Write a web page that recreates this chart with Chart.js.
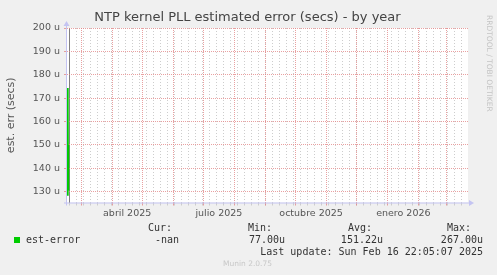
<!DOCTYPE html>
<html>
<head>
<meta charset="utf-8">
<script src="https://cdn.jsdelivr.net/npm/chart.js@4/dist/chart.umd.min.js"></script>
<style>
  html, body { margin: 0; padding: 0; background: #f0f0f0; }
  #wrap { width: 497px; height: 275px; }
</style>
</head>
<body>
<div id="wrap"><canvas id="ntpChart" width="497" height="275"></canvas></div>
<script>
// time axis: 400 days, left edge = 15 Feb 2025 (day 0)
const startDate = Date.UTC(2025, 1, 15);
const spanDays = 400;
const DAY = 86400000;
const dayOf = (y, m, d) => (Date.UTC(y, m, d) - startDate) / DAY;

const monthLabels = ['abril 2025', 'julio 2025', 'octubre 2025', 'enero 2026'];
const labelMonths = [[2025, 3], [2025, 6], [2025, 9], [2026, 0]];

// est-error samples (days from left edge, micro-seconds)
const errDays = [0.4, 0.6, 0.8, 1.0, 1.2];
const errValues = [174.3, 128.3, 165.0, 131.0, 150.0];
const lastUpdateDay = 2.5;

const yTicks = [130, 140, 150, 160, 170, 180, 190, 200];
const yMin = 125.4, yMax = 200;

const legendHead = ['Cur:', 'Min:', 'Avg:', 'Max:'];
const legendVals = ['-nan', '77.00u', '151.22u', '267.00u'];

const RED = 'rgba(226,130,130,0.75)';
const GRAY = 'rgba(200,200,200,0.9)';
const AXIS = '#c4c4f2';

function xTicks(scale) {
  const t = [];
  for (let d = dayOf(2025, 1, 17); d <= spanDays; d += 7) t.push({ value: d, kind: 'week' });
  for (let y = 2025, m = 2; ; m++) {
    if (m > 11) { m = 0; y++; }
    const d = dayOf(y, m, 1);
    if (d > spanDays) break;
    t.push({ value: d, kind: 'month' });
  }
  labelMonths.forEach(([y, m], i) => {
    const mid = (dayOf(y, m, 1) + dayOf(y, m + 1, 1)) / 2;
    t.push({ value: mid, kind: 'label', name: monthLabels[i] });
  });
  t.push({ value: lastUpdateDay, kind: 'now' });
  scale.ticks = t;
}

function yGrid(scale) {
  const t = [];
  yTicks.forEach(v => {
    if (v - 5 >= yMin) t.push({ value: v - 5, kind: 'minor' });
    t.push({ value: v, kind: 'major' });
  });
  scale.ticks = t;
}

const frame = {
  id: 'frame',
  beforeDraw(chart) {
    const { ctx, chartArea: a } = chart;
    ctx.save();
    ctx.fillStyle = '#f0f0f0';
    ctx.fillRect(0, 0, chart.width, chart.height);
    ctx.fillStyle = '#ffffff';
    ctx.fillRect(a.left, a.top, a.right - a.left, a.bottom - a.top);
    ctx.restore();
  },
  afterDraw(chart) {
    const { ctx, chartArea: a } = chart;
    ctx.save();
    // axes with arrows
    ctx.strokeStyle = AXIS;
    ctx.fillStyle = AXIS;
    ctx.lineWidth = 1;
    ctx.beginPath();
    ctx.moveTo(a.left - 3, a.bottom + 0.5);
    ctx.lineTo(a.right + 2, a.bottom + 0.5);
    ctx.moveTo(a.left - 0.5, a.bottom + 3);
    ctx.lineTo(a.left - 0.5, a.top - 3);
    ctx.stroke();
    ctx.beginPath();
    ctx.moveTo(a.right + 1, a.bottom - 2.5);
    ctx.lineTo(a.right + 6, a.bottom + 0.5);
    ctx.lineTo(a.right + 1, a.bottom + 3.5);
    ctx.closePath();
    ctx.fill();
    ctx.beginPath();
    ctx.moveTo(a.left - 3.5, a.top - 2);
    ctx.lineTo(a.left - 0.5, a.top - 7);
    ctx.lineTo(a.left + 2.5, a.top - 2);
    ctx.closePath();
    ctx.fill();

    // title
    ctx.fillStyle = '#444';
    ctx.font = '13px "DejaVu Sans"';
    ctx.textAlign = 'center';
    ctx.textBaseline = 'middle';
    ctx.fillText('NTP kernel PLL estimated error (secs) - by year', 247.5, 18);

    // side text
    ctx.save();
    ctx.translate(489, 15);
    ctx.rotate(Math.PI / 2);
    ctx.fillStyle = '#c4c4c4';
    ctx.font = '7.5px "DejaVu Sans"';
    ctx.textAlign = 'left';
    ctx.fillText('RRDTOOL / TOBI OETIKER', 0, 0);
    ctx.restore();

    // legend table
    ctx.font = '10px "DejaVu Sans Mono"';
    ctx.fillStyle = '#333';
    ctx.textAlign = 'right';
    const cols = [172, 272, 372, 471];
    legendHead.forEach((h, i) => ctx.fillText(h, cols[i], 228));
    const vcols = [179, 285, 383, 483];
    legendVals.forEach((v, i) => ctx.fillText(v, vcols[i], 240));
    ctx.fillText('Last update: Sun Feb 16 22:05:07 2025', 483, 252);
    ctx.textAlign = 'left';
    ctx.fillText('est-error', 26, 240);
    ctx.fillStyle = '#00cc00';
    ctx.fillRect(14, 237, 6, 6);

    ctx.fillStyle = '#c8c8c8';
    ctx.font = '7.5px "DejaVu Sans"';
    ctx.textAlign = 'center';
    ctx.fillText('Munin 2.0.75', 247.5, 264);
    ctx.restore();
  }
};

const ntpChart = new Chart(document.getElementById('ntpChart').getContext('2d'), {
  type: 'line',
  data: {
    datasets: [{
      label: 'est-error',
      data: errDays.map((d, i) => ({ x: d, y: errValues[i] })),
      borderColor: '#00cc00',
      borderWidth: 2,
      pointRadius: 0,
      fill: false,
      tension: 0,
      clip: 4
    }]
  },
  options: {
    responsive: false,
    animation: false,
    layout: { padding: { left: 0, top: 28, right: 29, bottom: 52.5 } },
    plugins: { legend: { display: false }, tooltip: { enabled: false }, title: { display: false } },
    scales: {
      x: {
        type: 'linear',
        min: 0,
        max: spanDays,
        afterBuildTicks: xTicks,
        afterFit: s => { s.height = 20; },
        border: {
          display: false,
          dash: ctx => (ctx.tick && ctx.tick.kind === 'now') ? [] : (ctx.tick && ctx.tick.kind === 'month') ? [1, 1] : [1, 2]
        },
        grid: {
          lineWidth: 1,
          tickLength: 3,
          color: ctx => {
            const k = ctx.tick && ctx.tick.kind;
            if (k === 'month') return RED;
            if (k === 'week') return GRAY;
            if (k === 'now') return '#808080';
            return 'rgba(0,0,0,0)';
          },
          tickColor: ctx => {
            const k = ctx.tick && ctx.tick.kind;
            if (k === 'month') return RED;
            if (k === 'week') return GRAY;
            return 'rgba(0,0,0,0)';
          }
        },
        ticks: {
          autoSkip: false,
          maxRotation: 0,
          minRotation: 0,
          padding: 2,
          color: '#555',
          font: { family: 'DejaVu Sans', size: 9.5 },
          callback: (v, i, t) => t[i].name || ''
        }
      },
      y: {
        min: yMin,
        max: yMax,
        afterBuildTicks: yGrid,
        afterFit: s => { s.width = 67; },
        border: {
          display: false,
          dash: ctx => (ctx.tick && ctx.tick.kind === 'major') ? [1, 1] : [1, 2]
        },
        grid: {
          lineWidth: 1,
          tickLength: 3,
          color: ctx => (ctx.tick && ctx.tick.kind === 'major') ? RED : GRAY,
          tickColor: ctx => (ctx.tick && ctx.tick.kind === 'major') ? RED : GRAY
        },
        ticks: {
          padding: 4,
          color: '#555',
          font: { family: 'DejaVu Sans', size: 9.5 },
          callback: v => (v % 10 === 0) ? v + ' u' : ''
        },
        title: {
          display: true,
          text: 'est. err (secs)',
          color: '#555',
          font: { family: 'DejaVu Sans', size: 11 },
          padding: { top: 5, bottom: 0 }
        }
      }
    }
  },
  plugins: [frame]
});
</script>
</body>
</html>
